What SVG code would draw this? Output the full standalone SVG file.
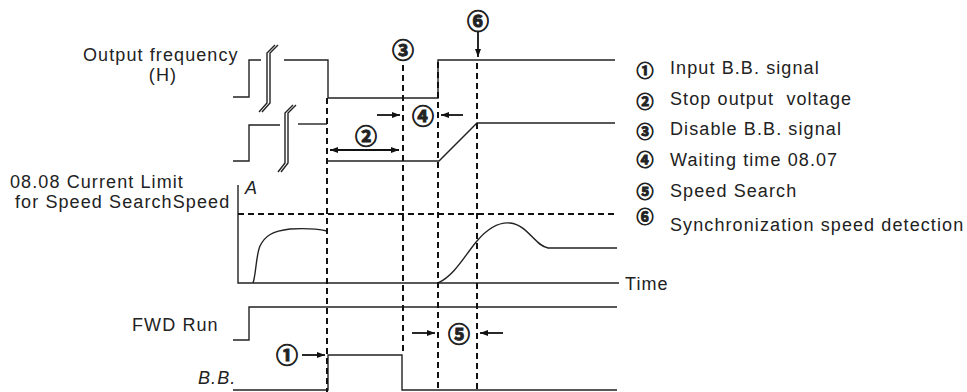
<svg xmlns="http://www.w3.org/2000/svg" width="967" height="392" viewBox="0 0 967 392">
<style>
.t{font-family:"Liberation Sans",Arial,sans-serif;font-size:18px;letter-spacing:1.1px;fill:#222;white-space:pre}
.i{font-style:italic}
.c{font-family:"Noto Sans CJK JP","Noto Sans CJK SC",sans-serif;font-weight:bold;fill:#222;stroke:#222;stroke-width:0.9;text-anchor:middle}
.w{fill:none;stroke:#222;stroke-width:1.4}
.d{fill:none;stroke:#111;stroke-width:2;stroke-dasharray:6 4}
.a{fill:none;stroke:#111;stroke-width:1.8}
</style>
<defs>
<marker id="ah" markerWidth="8" markerHeight="6" refX="8" refY="3" orient="auto" markerUnits="userSpaceOnUse">
<path d="M0,0 L8,3 L0,6 Z" fill="#111"/>
</marker>
<marker id="as" markerWidth="8" markerHeight="6" refX="0" refY="3" orient="auto" markerUnits="userSpaceOnUse">
<path d="M8,0 L0,3 L8,6 Z" fill="#111"/>
</marker>
</defs>
<rect width="967" height="392" fill="#fff"/>

<g id="labels">
<text class="t" x="83" y="61">Output frequency</text>
<text class="t" x="163" y="81" text-anchor="middle">(H)</text>
<text class="t" x="10" y="188">08.08 Current Limit</text>
<text class="t" x="15" y="208">for Speed SearchSpeed</text>
<text class="t i" x="245" y="194" font-size="16">A</text>
<text class="t" x="625" y="290">Time</text>
<text class="t" x="132" y="331">FWD Run</text>
<text class="t i" x="198" y="384">B.B.</text>
</g>

<g id="wave-output-frequency">
<polyline class="w" points="233,97 249,97 249,60 261,60"/>
<polyline class="w" points="259,112 267,103 267,53 275,45"/>
<polyline class="w" points="262,112 270,103 270,53 278,45"/>
<polyline class="w" points="284,60 328,60 328,98 438,98 438,60 615,60"/>
</g>

<g id="wave-speed">
<polyline class="w" points="233,161 249,161 249,125 280,125"/>
<polyline class="w" points="278,172 285,163 285,113 293,105"/>
<polyline class="w" points="281,172 288,163 288,113 296,105"/>
<polyline class="w" points="298,124 327,124"/>
<polyline class="w" points="327,161 439,161 477,123 615,123"/>
</g>

<g id="current-plot">
<polyline class="w" points="238,185 238,283 619,283"/>
<path class="w" d="M253,283 C256,275 256,255 260,246 C265,236 272,231 290,229 C305,228 318,229 327,231"/>
<path class="w" d="M438,283 C455,275 465,255 477,241 C488,228 498,222 510,223 C528,225 535,246 548,248 L617,248"/>
</g>

<g id="wave-fwd-run">
<polyline class="w" points="233,340 249,340 249,307 617,307"/>
</g>

<g id="wave-bb">
<polyline class="w" points="233,390 328,390 328,355 402,355 402,390 617,390"/>
</g>

<g id="legend">
<text class="c" x="645" y="77" font-size="17">①</text>
<text class="t" x="670" y="74">Input B.B. signal</text>
<text class="c" x="645" y="108" font-size="17">②</text>
<text class="t" x="670" y="105">Stop output  voltage</text>
<text class="c" x="645" y="138" font-size="17">③</text>
<text class="t" x="670" y="135">Disable B.B. signal</text>
<text class="c" x="645" y="166" font-size="17">④</text>
<text class="t" x="670" y="166">Waiting time 08.07</text>
<text class="c" x="645" y="198" font-size="17">⑤</text>
<text class="t" x="670" y="197">Speed Search</text>
<text class="c" x="645" y="223" font-size="17">⑥</text>
<text class="t" x="670" y="231">Synchronization speed detection</text>
</g>

<g id="markers">
<text class="c" x="403" y="58" font-size="22">③</text>
<text class="c" x="478" y="29" font-size="22">⑥</text>
<text class="c" x="423" y="124" font-size="22">④</text>
<text class="c" x="366" y="144" font-size="22">②</text>
<text class="c" x="459" y="342" font-size="22">⑤</text>
<text class="c" x="287" y="363" font-size="22">①</text>
</g>

<g id="connectors">
<line class="d" x1="238" y1="214" x2="617" y2="214"/>
<line class="d" x1="327" y1="98" x2="327" y2="392"/>
<line class="d" x1="403" y1="65" x2="403" y2="355"/>
<line class="d" x1="438" y1="62" x2="438" y2="392"/>
<line class="d" x1="477" y1="63" x2="477" y2="392"/>
<line class="a" x1="478" y1="32" x2="478" y2="57" marker-end="url(#ah)"/>
<line class="a" x1="377" y1="115" x2="400" y2="115" marker-end="url(#ah)"/>
<line class="a" x1="463" y1="115" x2="441" y2="115" marker-end="url(#ah)"/>
<line class="a" x1="330" y1="150" x2="399" y2="150" marker-start="url(#as)" marker-end="url(#ah)"/>
<line class="a" x1="302" y1="355" x2="325" y2="355" marker-end="url(#ah)"/>
<line class="a" x1="412" y1="333" x2="435" y2="333" marker-end="url(#ah)"/>
<line class="a" x1="503" y1="333" x2="480" y2="333" marker-end="url(#ah)"/>
</g>
</svg>
